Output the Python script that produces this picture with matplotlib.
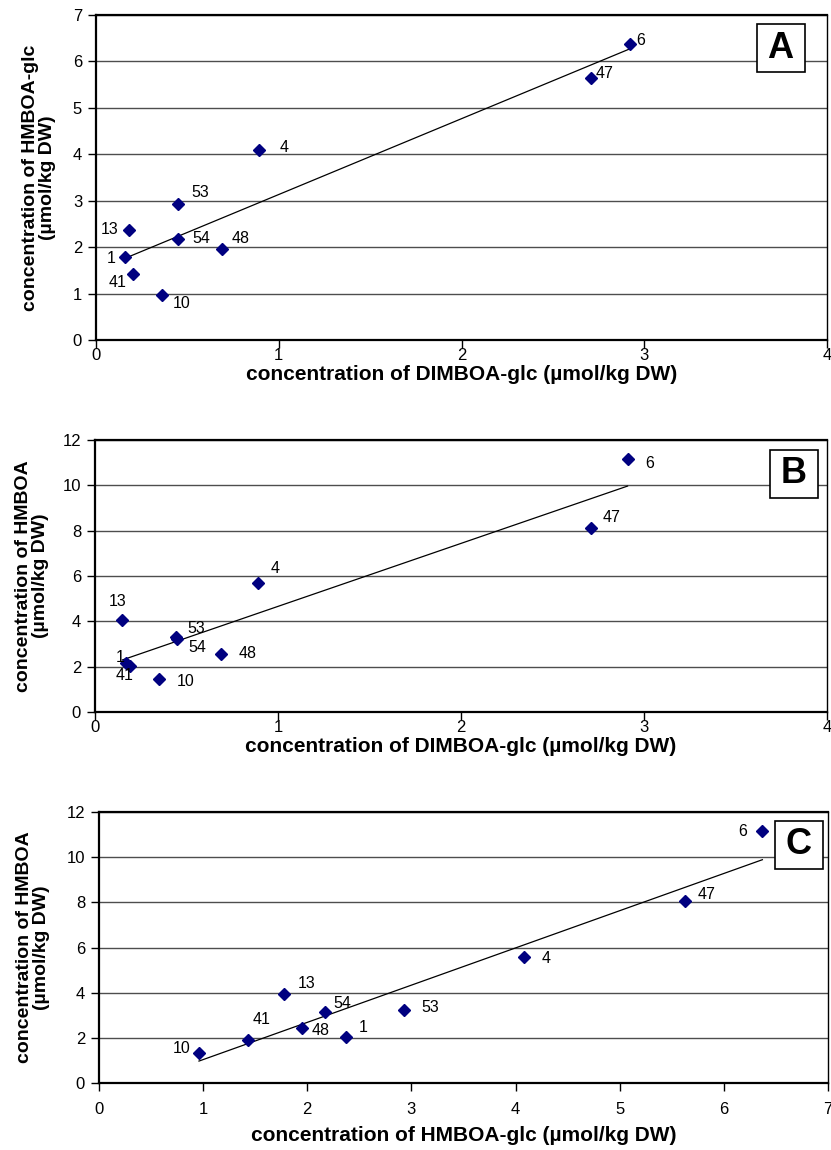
import numpy as np
import matplotlib.pyplot as plt
from matplotlib.patches import Rectangle

plt.rcParams['font.family'] = ['Liberation Sans', 'DejaVu Sans']

# sample numbers shown next to each point
labels_a = ['6', '47', '4', '53', '13', '54', '48', '1', '41', '10']
labels_b = ['6', '47', '4', '53', '13', '54', '48', '1', '41', '10']
labels_c = ['6', '47', '4', '53', '13', '54', '48', '1', '41', '10']

# panel A: DIMBOA-glc vs HMBOA-glc
a_dimboa_glc = [2.92, 2.71, 0.89, 0.45, 0.18, 0.45, 0.69, 0.16, 0.20, 0.36]
a_hmboa_glc = [6.37, 5.65, 4.09, 2.94, 2.38, 2.17, 1.95, 1.78, 1.43, 0.96]

# panel B: DIMBOA-glc vs HMBOA
b_dimboa_glc = [2.91, 2.71, 0.89, 0.44, 0.15, 0.45, 0.69, 0.17, 0.19, 0.35]
b_hmboa = [11.15, 8.10, 5.68, 3.30, 4.05, 3.20, 2.56, 2.16, 2.03, 1.45]

# panel C: HMBOA-glc vs HMBOA
c_hmboa_glc = [6.37, 5.63, 4.08, 2.93, 1.78, 2.17, 1.95, 2.37, 1.43, 0.96]
c_hmboa = [11.15, 8.05, 5.58, 3.23, 3.94, 3.14, 2.43, 2.04, 1.90, 1.33]

W, H = 831, 1150

# label offsets in pixels (dx, dy, ha) -- layout only
off_a = {'6': (7, 4, 'left'), '47': (4, 4, 'left'), '4': (21, 3, 'left'),
         '53': (13, 11, 'left'), '13': (-10, 0, 'right'), '54': (14, 1, 'left'),
         '48': (10, 11, 'left'), '1': (-10, -1, 'right'), '41': (-6, -9, 'right'),
         '10': (11, -8, 'left')}
off_b = {'6': (18, -4, 'left'), '47': (12, 11, 'left'), '4': (13, 15, 'left'),
         '53': (12, 9, 'left'), '13': (-5, 19, 'center'), '54': (11, -8, 'left'),
         '48': (17, 0, 'left'), '1': (-6, 6, 'center'), '41': (-5, -10, 'center'),
         '10': (18, -2, 'left')}
off_c = {'6': (-15, 0, 'right'), '47': (12, 7, 'left'), '4': (18, -2, 'left'),
         '53': (17, 3, 'left'), '13': (13, 11, 'left'), '54': (8, 9, 'left'),
         '48': (10, -2, 'left'), '1': (13, 9, 'left'), '41': (5, 21, 'left'),
         '10': (-8, 4, 'right')}

fig = plt.figure(figsize=(W / 100, H / 100), dpi=100)


def make_axes(left, right, top, bottom):
    return fig.add_axes([left / W, 1 - bottom / H, (right - left) / W, (bottom - top) / H])


def panel(ax, x, y, labels, offs, xmax, ymax, ystep, xlabel, ylabel, letter, box,
          xtpad, xpad, ypad):
    ax.set_xlim(0, xmax)
    ax.set_ylim(0, ymax)
    ax.set_xticks(np.arange(0, xmax + 1, 1))
    ax.set_yticks(np.arange(0, ymax + ystep, ystep))
    ax.yaxis.grid(True, color='0.3', linewidth=1)
    ax.set_axisbelow(True)
    for s in ['left', 'bottom', 'top']:
        ax.spines[s].set_linewidth(1.6)
    ax.spines['right'].set_linewidth(1.0)
    ax.tick_params(direction='out', length=6, width=1, labelsize=12)
    ax.tick_params(axis='x', pad=xtpad)
    ax.tick_params(axis='y', pad=4)

    # linear trend line over the data range
    k, b0 = np.polyfit(x, y, 1)
    xs = np.array([min(x), max(x)])
    ax.plot(xs, k * xs + b0, color='black', linewidth=0.9, zorder=2)

    ax.plot(x, y, linestyle='none', marker='D', markersize=6.5, color='#000080', zorder=3)
    for xi, yi, lab in zip(x, y, labels):
        dx, dy, ha = offs[lab]
        ax.annotate(lab, (xi, yi), xytext=(dx, dy), textcoords='offset pixels',
                    ha=ha, va='center', fontsize=11.5)

    ax.set_xlabel(xlabel, fontsize=15, fontweight='bold', labelpad=xpad)
    ax.set_ylabel(ylabel, fontsize=14, fontweight='bold', labelpad=ypad,
                  multialignment='center', linespacing=1.0)

    cx, cy = box
    fig.add_artist(Rectangle(((cx - 24) / W, 1 - (cy + 24) / H), 48 / W, 48 / H,
                             transform=fig.transFigure, facecolor='white',
                             edgecolor='black', linewidth=1.2, zorder=5))
    fig.text(cx / W, 1 - cy / H, letter, ha='center', va='center',
             fontsize=26, fontweight='bold', zorder=6)


ax_a = make_axes(96, 827, 15, 340)
panel(ax_a, a_dimboa_glc, a_hmboa_glc, labels_a, off_a, 4, 7, 1,
      'concentration of DIMBOA-glc (µmol/kg DW)',
      'concentration of HMBOA-glc\n(µmol/kg DW)', 'A', (780.5, 48), 0, 1, 12)

ax_b = make_axes(95, 827, 440, 712)
panel(ax_b, b_dimboa_glc, b_hmboa, labels_b, off_b, 4, 12, 2,
      'concentration of DIMBOA-glc (µmol/kg DW)',
      'concentration of HMBOA\n(µmol/kg DW)', 'B', (794, 473.5), 0, 1, 10)

ax_c = make_axes(99, 828, 812, 1083)
panel(ax_c, c_hmboa_glc, c_hmboa, labels_c, off_c, 7, 12, 2,
      'concentration of HMBOA-glc (µmol/kg DW)',
      'concentration of HMBOA\n(µmol/kg DW)', 'C', (798.5, 844.5), 8, 6, 12)

fig.savefig('out.png', dpi=100)
